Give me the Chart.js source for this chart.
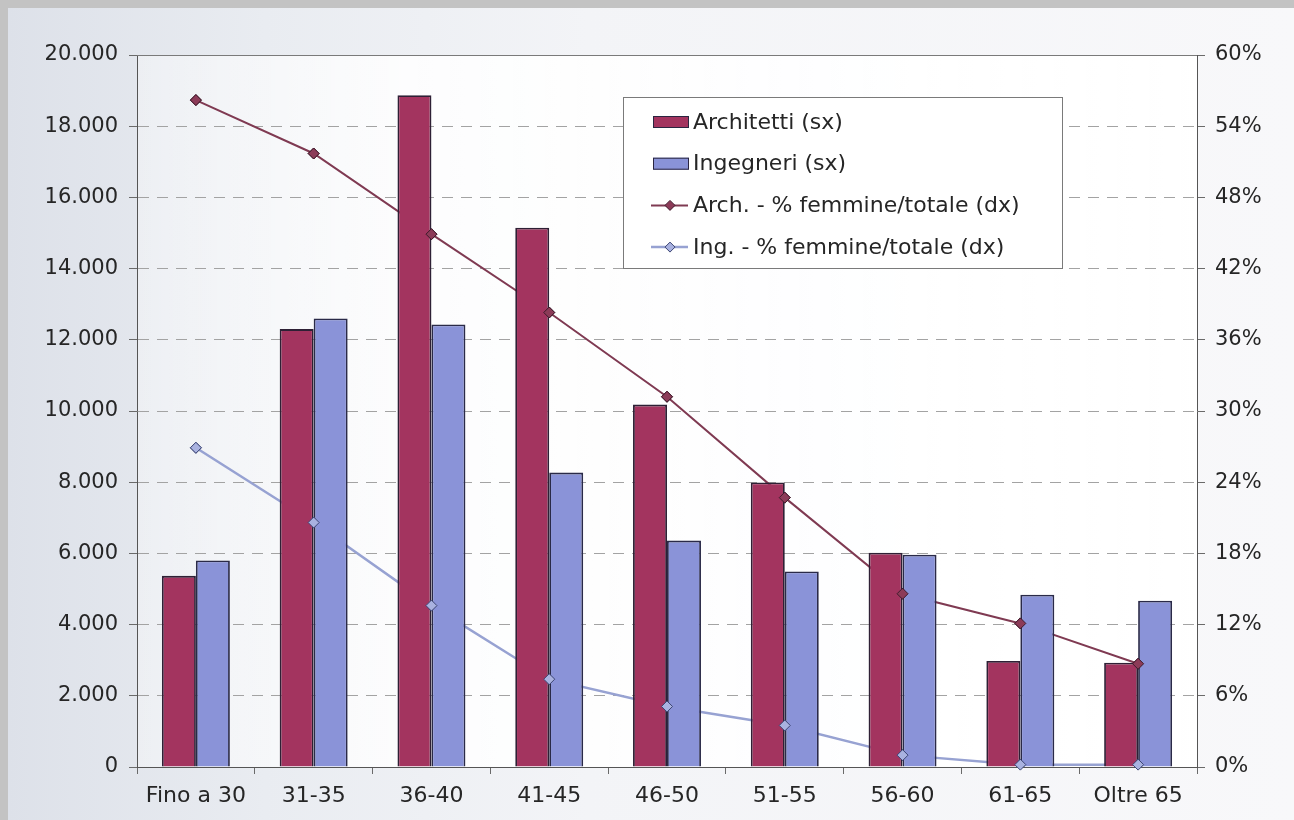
<!DOCTYPE html>
<html>
<head>
<meta charset="utf-8">
<script src="https://cdn.jsdelivr.net/npm/chart.js@4/dist/chart.umd.min.js"></script>
<style>
  html, body { margin: 0; padding: 0; width: 1294px; height: 820px; overflow: hidden; background: #c3c3c3; }
  #bg { position: absolute; left: 8px; top: 8px; right: 0; bottom: 0;
        background: linear-gradient(to right, #dde1e9 0%, #e9ecf1 20%, #f3f4f7 45%, #f8f8fa 100%); }
  #c { position: absolute; left: 0; top: 0; }
</style>
</head>
<body>
<div id="bg"></div>
<canvas id="c" width="1294" height="820"></canvas>
<script>
// ---- Data ----
const categories = ['Fino a 30', '31-35', '36-40', '41-45', '46-50', '51-55', '56-60', '61-65', 'Oltre 65'];
const seriesNames = ['Architetti (sx)', 'Ingegneri (sx)', 'Arch. - % femmine/totale (dx)', 'Ing. - % femmine/totale (dx)'];
const architetti = [5370, 12300, 18870, 15150, 10180, 7990, 6020, 2980, 2930];
const ingegneri = [5800, 12600, 12430, 8270, 6360, 5490, 5960, 4840, 4670];
const archPctFemmine = [56.2, 51.7, 44.9, 38.3, 31.2, 22.7, 14.6, 12.1, 8.7];
const ingPctFemmine = [26.9, 20.6, 13.6, 7.4, 5.1, 3.5, 1.0, 0.2, 0.2];
const leftAxisMax = 20000, leftAxisStep = 2000;
const rightAxisMax = 60, rightAxisStep = 6;

const FONT = '"DejaVu Sans", Verdana, sans-serif';
const TXT = '#262626';

function fmtThousands(v) {
  return String(v).replace(/\B(?=(\d{3})+(?!\d))/g, '.');
}

const plotBg = {
  id: 'plotBg',
  beforeDraw(chart) {
    const { ctx, chartArea: a } = chart;
    const g = ctx.createLinearGradient(a.left, 0, a.right, 0);
    g.addColorStop(0, 'rgba(255,255,255,0.35)');
    g.addColorStop(0.25, 'rgba(255,255,255,0.85)');
    g.addColorStop(1, 'rgba(255,255,255,0.95)');
    ctx.save();
    ctx.fillStyle = g;
    ctx.fillRect(a.left, a.top, a.right - a.left, a.bottom - a.top);
    ctx.restore();
  },
  beforeDatasetsDraw(chart) {
    const { ctx, chartArea: a } = chart;
    ctx.save();
    ctx.strokeStyle = '#7a7a7a';
    ctx.lineWidth = 1;
    ctx.beginPath();
    ctx.moveTo(a.left, a.top + 0.5); ctx.lineTo(a.right, a.top + 0.5);
    ctx.stroke();
    ctx.strokeStyle = '#555';
    ctx.beginPath();
    ctx.moveTo(a.left, a.bottom + 0.5); ctx.lineTo(a.right, a.bottom + 0.5);
    ctx.stroke();
    ctx.restore();
  }
};

// Redraw line markers above the bars (lines themselves stay behind)
const markersOnTop = {
  id: 'markersOnTop',
  afterDatasetsDraw(chart) {
    const ctx = chart.ctx;
    chart.data.datasets.forEach((ds, i) => {
      if (ds.type === 'line') {
        const meta = chart.getDatasetMeta(i);
        meta.data.forEach(p => p.draw(ctx, chart.chartArea));
      }
    });
  }
};

const boxLegend = {
  id: 'boxLegend',
  afterDraw(chart) {
    const { ctx, chartArea: a } = chart;
    const x0 = a.left + 486, y0 = a.top + 42, w = 439, h = 171;
    ctx.save();
    ctx.fillStyle = '#ffffff';
    ctx.fillRect(x0, y0, w, h);
    ctx.strokeStyle = '#7a7a7a';
    ctx.lineWidth = 1;
    ctx.strokeRect(x0 + 0.5, y0 + 0.5, w, h);
    const rowH = 41.7;
    chart.data.datasets.forEach((ds, i) => {
      const cy = y0 + 25 + i * rowH;
      const sx = x0 + 30;
      if (ds.type === 'line') {
        ctx.strokeStyle = ds.borderColor;
        ctx.lineWidth = ds.borderWidth;
        ctx.beginPath();
        ctx.moveTo(sx - 2, cy); ctx.lineTo(sx + 35, cy);
        ctx.stroke();
        ctx.fillStyle = ds.pointBackgroundColor;
        ctx.strokeStyle = ds.pointBorderColor;
        ctx.lineWidth = 1;
        const r = 5, mx = sx + 17;
        ctx.beginPath();
        ctx.moveTo(mx, cy - r); ctx.lineTo(mx + r, cy); ctx.lineTo(mx, cy + r); ctx.lineTo(mx - r, cy);
        ctx.closePath();
        ctx.fill(); ctx.stroke();
      } else {
        ctx.fillStyle = ds.backgroundColor;
        ctx.fillRect(sx, cy - 6, 36, 12);
        ctx.strokeStyle = '#2a2540';
        ctx.lineWidth = 1;
        ctx.strokeRect(sx + 0.5, cy - 5.5, 35, 11);
      }
      ctx.fillStyle = TXT;
      ctx.font = '22px ' + FONT;
      ctx.textBaseline = 'middle';
      ctx.textAlign = 'left';
      ctx.fillText(ds.label, sx + 40, cy + 1);
    });
    ctx.restore();
  }
};

new Chart(document.getElementById('c'), {
  data: {
    labels: categories,
    datasets: [
      { type: 'bar', label: seriesNames[0], data: architetti, yAxisID: 'y',
        backgroundColor: '#a3345f', borderColor: '#2e2035', borderWidth: 1.8,
        categoryPercentage: 0.577, barPercentage: 1.0, order: 1 },
      { type: 'bar', label: seriesNames[1], data: ingegneri, yAxisID: 'y',
        backgroundColor: '#8a93d8', borderColor: '#2a2a48', borderWidth: 1.8,
        categoryPercentage: 0.577, barPercentage: 1.0, order: 1 },
      { type: 'line', label: seriesNames[2], data: archPctFemmine, yAxisID: 'y2',
        borderColor: '#7f3a52', borderWidth: 2, tension: 0, fill: false,
        pointStyle: 'rectRot', pointRadius: 5.5, pointBackgroundColor: '#8c3b58',
        pointBorderColor: '#3e1b2b', pointBorderWidth: 1, order: 2 },
      { type: 'line', label: seriesNames[3], data: ingPctFemmine, yAxisID: 'y2',
        borderColor: '#97a2d2', borderWidth: 2.5, tension: 0, fill: false,
        pointStyle: 'rectRot', pointRadius: 5.5, pointBackgroundColor: '#a9b2e0',
        pointBorderColor: '#3d4675', pointBorderWidth: 1, order: 2 }
    ]
  },
  options: {
    responsive: false,
    animation: false,
    layout: { padding: { top: 55, left: 0, right: 0, bottom: 0 } },
    plugins: { legend: { display: false }, tooltip: { enabled: false } },
    scales: {
      x: {
        type: 'category',
        offset: true,
        grid: { offset: true, drawOnChartArea: false, drawTicks: true, tickLength: 7, color: '#6a6a6a', tickColor: '#6a6a6a' },
        border: { display: true, color: '#555', width: 1 },
        ticks: { color: TXT, font: { family: FONT, size: 22 }, padding: 9, maxRotation: 0, autoSkip: false },
        afterFit(s) { s.height = 53; }
      },
      y: {
        position: 'left',
        min: 0, max: leftAxisMax,
        ticks: { stepSize: leftAxisStep, color: TXT, font: { family: FONT, size: 21 }, padding: 11,
                 callback: v => fmtThousands(v) },
        grid: { color: '#a3a3a3', lineWidth: 1, tickLength: 8, tickColor: '#6a6a6a', tickBorderDash: [] },
        border: { display: true, color: '#555', width: 1, dash: [11, 8] },
        afterFit(s) { s.width = 137; }
      },
      y2: {
        position: 'right',
        min: 0, max: rightAxisMax,
        ticks: { stepSize: rightAxisStep, color: TXT, font: { family: FONT, size: 21 }, padding: 10,
                 callback: v => v + '%' },
        grid: { drawOnChartArea: false, tickLength: 8, tickColor: '#6a6a6a' },
        border: { display: true, color: '#555', width: 1 },
        afterFit(s) { s.width = 97; }
      }
    }
  },
  plugins: [plotBg, markersOnTop, boxLegend]
});
</script>
</body>
</html>
